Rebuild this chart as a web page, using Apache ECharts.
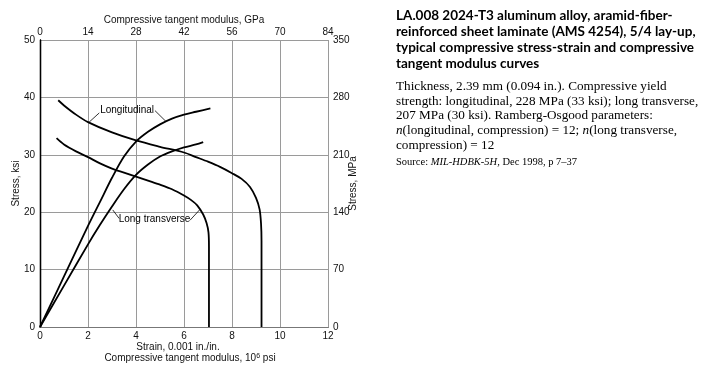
<!DOCTYPE html>
<html>
<head>
<meta charset="utf-8">
<script src="https://cdn.jsdelivr.net/npm/echarts@6/dist/echarts.min.js"></script>
<style>html,body{margin:0;padding:0;background:#fff;}#c{width:712px;height:368px;}</style>
</head>
<body>
<div id="c"></div>
<script>
// Strain axis ticks (0.001 in./in.) and modulus (10^6 psi) share the bottom axis
const bottomTicks = [0, 2, 4, 6, 8, 10, 12];
const topTicksGPa = [0, 14, 28, 42, 56, 70, 84];
const leftTicksKsi = [0, 10, 20, 30, 40, 50];
const rightTicksMPa = [0, 70, 140, 210, 280, 350];

// Longitudinal stress-strain curve: strain, stress (ksi)
const longSSStrain = [0, 1, 2, 2.5, 3, 3.5, 4, 4.5, 5, 5.5, 6, 6.5, 7.1];
const longSSStress = [0, 8.8, 17.6, 21.8, 26.0, 29.7, 32.3, 34.0, 35.3, 36.3, 37.0, 37.5, 38.1];

// Long transverse stress-strain curve
const ltSSStrain = [0, 1, 2, 2.5, 3, 3.5, 4, 4.5, 5, 5.5, 6, 6.5, 6.8];
const ltSSStress = [0, 7.2, 14.4, 17.8, 21.0, 24.0, 26.5, 28.3, 29.7, 30.6, 31.3, 31.8, 32.2];

// Longitudinal tangent modulus curve: modulus (10^6 psi), stress (ksi)
const longTanMod = [0.76, 1, 1.5, 2, 3, 4, 5, 6, 6.5, 7, 7.5, 8, 8.4, 8.75, 9.0, 9.15, 9.21, 9.23, 9.23];
const longTanStress = [39.5, 38.6, 37.0, 35.7, 33.9, 32.5, 31.4, 30.4, 29.6, 28.8, 27.9, 26.8, 25.8, 24.4, 22.5, 20.5, 18, 15, 0];

// Long transverse tangent modulus curve
const ltTanMod = [0.69, 1, 1.5, 2, 2.5, 3, 3.5, 4, 4.5, 5, 5.5, 6, 6.3, 6.55, 6.8, 6.94, 7.02, 7.04, 7.04];
const ltTanStress = [32.9, 31.8, 30.6, 29.6, 28.5, 27.6, 26.9, 26.2, 25.5, 24.8, 24.0, 22.9, 22.1, 21.2, 19.6, 18.1, 16.5, 14, 0];

// Curve labels (data coordinates) and leader lines
const labelNames = ['Longitudinal', 'Long transverse'];
const labelPos = [[3.63, 37.8], [4.77, 18.8]];
const leaders = [
  [[2.47, 37.3], [2.05, 35.7]],
  [[4.79, 37.7], [5.25, 35.8]],
  [[3.30, 18.9], [3.03, 20.4]],
  [[6.25, 18.6], [6.67, 20.5]]
];

const zip = (a, b) => a.map((v, i) => [v, b[i]]);

const chart = echarts.init(document.getElementById('c'), null, {renderer: 'canvas'});
const SANS = 'Liberation Sans, Arial, sans-serif';
const SERIF = 'Liberation Serif, Times New Roman, serif';
const tickFont = {fontFamily: SANS, fontSize: 10, color: '#111'};
const nameFont = {fontFamily: SANS, fontSize: 10, color: '#111'};
const curveStyle = {color: '#000', width: 1.8};

function curve(x, y) {
  return {
    type: 'line', xAxisIndex: 0, yAxisIndex: 0, data: zip(x, y),
    showSymbol: false, smooth: 0.3, lineStyle: curveStyle, itemStyle: {color: '#000'},
    silent: true, animation: false
  };
}

const series = [
  curve(longSSStrain, longSSStress),
  curve(ltSSStrain, ltSSStress),
  curve(longTanMod, longTanStress),
  curve(ltTanMod, ltTanStress)
];
series[0].markLine = {
  silent: true, symbol: 'none', animation: false,
  lineStyle: {color: '#000', width: 0.8, type: 'solid'}, label: {show: false},
  data: leaders.map(l => [{coord: l[0]}, {coord: l[1]}])
};
series[0].markPoint = {
  silent: true, symbol: 'circle', symbolSize: 0, animation: false,
  data: labelNames.map((n, i) => ({coord: labelPos[i], name: n})),
  label: {show: true, position: 'inside', formatter: p => p.name,
    fontFamily: SANS, fontSize: 10, color: '#000', textBorderWidth: 0, textShadowBlur: 0}
};

const option = {
  backgroundColor: '#fff',
  animation: false,
  grid: {left: 40, right: 384, top: 40, bottom: 41, show: false, containLabel: false, outerBoundsMode: 'none'},
  title: [
    {
      left: 396, top: 8, padding: 0,
      text: 'LA.008 2024-T3 aluminum alloy, aramid-fiber-\nreinforced sheet laminate (AMS 4254), 5/4 lay-up,\ntypical compressive stress-strain and compressive\ntangent modulus curves',
      textStyle: {fontFamily: 'Lato, Open Sans, sans-serif', fontWeight: 'bold', fontSize: 13.5, lineHeight: 15.8, color: '#000'}
    },
    {
      left: 396, top: 79, padding: 0,
      text: 'Thickness, 2.39 mm (0.094 in.). Compressive yield\nstrength: longitudinal, 228 MPa (33 ksi); long transverse,\n207 MPa (30 ksi). Ramberg-Osgood parameters:\n{i|n}(longitudinal, compression) = 12; {i|n}(long transverse,\ncompression) = 12',
      textStyle: {fontFamily: SERIF, fontWeight: 'normal', fontSize: 13.2, lineHeight: 14.7, color: '#000',
        rich: {i: {fontFamily: SERIF, fontWeight: 'normal', fontStyle: 'italic', fontSize: 13.2, lineHeight: 14.7, color: '#000'}}}
    },
    {
      left: 396, top: 157, padding: 0,
      text: 'Source: {i|MIL-HDBK-5H,} Dec 1998, p 7–37',
      textStyle: {fontFamily: SERIF, fontWeight: 'normal', fontSize: 10.5, color: '#000',
        rich: {i: {fontFamily: SERIF, fontWeight: 'normal', fontStyle: 'italic', fontSize: 10.5, color: '#000'}}}
    }
  ],
  xAxis: [
    {
      type: 'value', position: 'bottom', min: bottomTicks[0], max: bottomTicks[bottomTicks.length - 1],
      interval: bottomTicks[1] - bottomTicks[0],
      name: '{a|Strain, 0.001 in./in.}\n{b|Compressive tangent modulus, 10}{s|6}{c| psi}',
      nameLocation: 'middle', nameGap: 14.5, nameMoveOverlap: false,
      nameTextStyle: Object.assign({}, nameFont, {lineHeight: 11, verticalAlign: 'top',
        rich: {
          a: {fontFamily: SANS, fontSize: 10, color: '#111', lineHeight: 11, padding: [0, 12, 0, 0]},
          b: {fontFamily: SANS, fontSize: 10, color: '#111', lineHeight: 11, padding: [0, 0, 0, 12]},
          c: {fontFamily: SANS, fontSize: 10, color: '#111', lineHeight: 11},
          s: {fontFamily: SANS, fontSize: 7, color: '#111', verticalAlign: 'top', lineHeight: 11, padding: [0, 0, 5, 0]}
        }}),
      axisLine: {show: true, lineStyle: {color: '#000', width: 1.2}},
      axisTick: {show: false},
      axisLabel: Object.assign({}, tickFont, {margin: 4}),
      splitLine: {show: true, lineStyle: {color: '#9a9a9a', width: 1}}
    },
    {
      type: 'value', position: 'top', min: topTicksGPa[0], max: topTicksGPa[topTicksGPa.length - 1],
      interval: topTicksGPa[1] - topTicksGPa[0],
      name: 'Compressive tangent modulus, GPa', nameLocation: 'middle', nameGap: 15, nameMoveOverlap: false,
      nameTextStyle: nameFont,
      axisLine: {show: true, lineStyle: {color: '#777', width: 1}},
      axisTick: {show: false},
      axisLabel: Object.assign({}, tickFont, {margin: 3}),
      splitLine: {show: false}
    }
  ],
  yAxis: [
    {
      type: 'value', position: 'left', min: leftTicksKsi[0], max: leftTicksKsi[leftTicksKsi.length - 1],
      interval: leftTicksKsi[1] - leftTicksKsi[0],
      name: 'Stress, ksi', nameLocation: 'middle', nameGap: 19, nameRotate: 90, nameMoveOverlap: false,
      nameTextStyle: nameFont,
      axisLine: {show: true, lineStyle: {color: '#000', width: 1.4}},
      axisTick: {show: false},
      axisLabel: Object.assign({}, tickFont, {margin: 5}),
      splitLine: {show: true, lineStyle: {color: '#9a9a9a', width: 1}}
    },
    {
      type: 'value', position: 'right', min: rightTicksMPa[0], max: rightTicksMPa[rightTicksMPa.length - 1],
      interval: rightTicksMPa[1] - rightTicksMPa[0],
      name: 'Stress, MPa', nameLocation: 'middle', nameGap: 20, nameRotate: 90, nameMoveOverlap: false,
      nameTextStyle: nameFont,
      axisLine: {show: true, lineStyle: {color: '#000', width: 1.2}},
      axisTick: {show: false},
      axisLabel: Object.assign({}, tickFont, {margin: 5}),
      splitLine: {show: false}
    }
  ],
  series: series
};
chart.setOption(option);
</script>
</body>
</html>
